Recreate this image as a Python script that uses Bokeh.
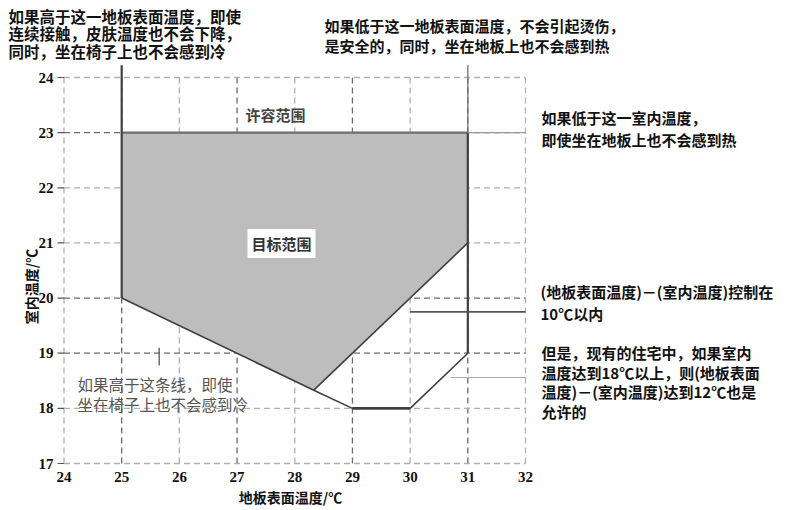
import math
from bokeh.plotting import figure
from bokeh.models import Label
from bokeh.core.properties import value
from bokeh.embed import file_html
from bokeh.resources import INLINE

# ---- data ----
floor_ticks = [24, 25, 26, 27, 28, 29, 30, 31, 32]
room_ticks = [17, 18, 19, 20, 21, 22, 23, 24]
floor_labels = [str(v) for v in floor_ticks]
room_labels = [str(v) for v in room_ticks]
grid_dark_x = [25, 27, 29, 31]
grid_dark_y = [23, 20, 19]

target_x = [25, 31, 31, 28.33, 25]
target_y = [23, 23, 21, 18.33, 20]

outer_x = [25, 28.33, 29, 30, 31, 31]
outer_y = [20, 18.33, 18, 18, 19, 21]

allow_top = 23          # upper limit of room temperature
floor_low = 25          # lower floor temperature limit
floor_high = 31         # upper floor temperature limit
y_top = 24.22

# ---- page-coordinate helpers (for text placement) ----
X0, X1, XP0, XP1 = 24, 32, 63.5, 525.0
Y0, Y1, YP0, YP1 = 17, 24, 463.0, 77.0
def dx(px):
    return X0 + (px - XP0) * (X1 - X0) / (XP1 - XP0)
def dy(py):
    return Y0 + (YP0 - py) * (Y1 - Y0) / (YP0 - YP1)

W, H = 790, 508
p = figure(width=W, height=H, x_range=(dx(0), dx(W)), y_range=(dy(H), dy(0)),
           output_backend="svg", toolbar_location=None,
           x_axis_location=None, y_axis_location=None, min_border=0)
p.outline_line_color = None
p.xgrid.visible = False
p.ygrid.visible = False
p.background_fill_color = "white"

# ---- dashed grid ----
for fx in floor_ticks:
    c = "#6a6a6a" if fx in grid_dark_x else "#b0b0b0"
    p.line([fx, fx], [room_ticks[0], room_ticks[-1]], line_color=c,
           line_width=1.3, line_dash="6 4")
for ry in room_ticks:
    c = "#6a6a6a" if ry in grid_dark_y else "#b0b0b0"
    p.line([floor_ticks[0], floor_ticks[-1]], [ry, ry], line_color=c,
           line_width=1.3, line_dash="6 4")

# ---- tick marks and labels ----
p.segment(x0=[dx(57)] * len(room_ticks), y0=room_ticks,
          x1=[floor_ticks[0]] * len(room_ticks), y1=room_ticks,
          line_color="#555555", line_width=1.2)
p.text(x=[dx(53)] * len(room_ticks), y=room_ticks, text=room_labels,
       text_font=value("Liberation Serif"), text_font_style="bold",
       text_font_size="15px", text_color="#111111",
       text_align="right", text_baseline="middle")
p.text(x=floor_ticks, y=[dy(476)] * len(floor_ticks), text=floor_labels,
       text_font=value("Liberation Serif"), text_font_style="bold",
       text_font_size="15px", text_color="#111111",
       text_align="center", text_baseline="middle")

# ---- target region ----
p.patch(target_x, target_y, fill_color="#bdbdbd", line_color=None)

dark = "#3f3f3f"
p.line([floor_low, floor_high], [allow_top, allow_top], line_color="#6e6e6e", line_width=2.2)
p.line([floor_high, target_x[3]], [target_y[2], target_y[3]], line_color=dark, line_width=1.6)
p.line(outer_x[:3], outer_y[:3], line_color=dark, line_width=1.6)
p.line(outer_x[2:4], outer_y[2:4], line_color=dark, line_width=2.6)
p.line(outer_x[3:5], outer_y[3:5], line_color=dark, line_width=1.6)
p.line([floor_high, floor_high], [outer_y[4], allow_top], line_color=dark, line_width=2.2)
p.line([floor_low, floor_low], [outer_y[0], y_top], line_color=dark, line_width=2.2)
p.line([floor_high, floor_high], [allow_top, y_top], line_color="#707070", line_width=1.3)

# leader lines
p.line([floor_high, 32], [allow_top, allow_top], line_color="#9a9a9a", line_width=1.2)
p.line([30, 32], [19.75, 19.75], line_color="#555555", line_width=1.6)
p.line([30.7, 32], [18.56, 18.56], line_color="#aaaaaa", line_width=1.1)
p.line([25.65, 25.65], [19.1, 18.78], line_color="#555555", line_width=1.3)

# ---- texts ----
FONT = "Noto Sans CJK SC"
def lab(text, px, py, size="15px", color="#111111", bold=True, align="left", **kw):
    p.add_layout(Label(x=dx(px), y=dy(py), text=text, text_font=FONT,
                       text_font_size=size, text_color=color,
                       text_font_style="bold" if bold else "normal",
                       text_align=align, text_baseline="middle", **kw))

for i, t in enumerate(["如果高于这一地板表面温度，即使",
                       "连续接触，皮肤温度也不会下降，",
                       "同时，坐在椅子上也不会感到冷"]):
    lab(t, 8, 15 + 17.5 * i, size="15.5px")

for i, t in enumerate(["如果低于这一地板表面温度，不会引起烫伤，",
                       "是安全的，同时，坐在地板上也不会感到热"]):
    lab(t, 324, 25 + 20 * i)

for i, t in enumerate(["如果低于这一室内温度，",
                       "即使坐在地板上也不会感到热"]):
    lab(t, 541, 117 + 22 * i)

for i, t in enumerate(["(地板表面温度)－(室内温度)控制在",
                       "10℃以内"]):
    lab(t, 540, 291 + 22 * i)

for i, t in enumerate(["但是，现有的住宅中，如果室内",
                       "温度达到18℃以上，则(地板表面",
                       "温度)－(室内温度)达到12℃也是",
                       "允许的"]):
    lab(t, 541, 352 + 19.5 * i)

for i, t in enumerate(["如果高于这条线，即使",
                       "坐在椅子上也不会感到冷"]):
    lab(t, 77, 383 + 20 * i, size="15.5px", color="#555555", bold=False)

lab("许容范围", 275, 114, color="#444444", align="center")
lab("目标范围", 281, 243, color="#333333", align="center",
    background_fill_color="white", padding=4)

lab("地板表面温度/℃", 290, 496, size="14px", align="center")
p.text(x=[dx(30)], y=[dy(286)], text=["室内温度/℃"], angle=math.pi / 2,
       text_font=value(FONT), text_font_style="bold", text_font_size="14px",
       text_color="#111111", text_align="center", text_baseline="middle")

open("out.html", "w").write(file_html(p, INLINE))
